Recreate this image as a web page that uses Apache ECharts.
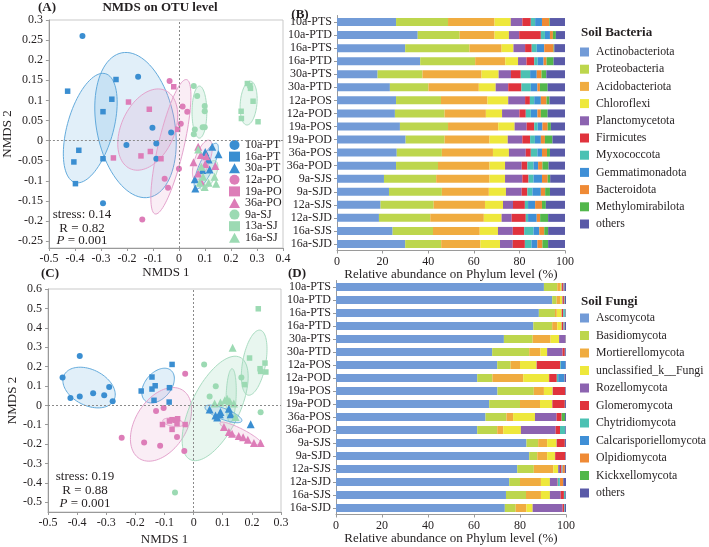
<!DOCTYPE html>
<html><head><meta charset="utf-8">
<script src="https://cdn.jsdelivr.net/npm/echarts@6/dist/echarts.min.js"></script>
<style>html,body{margin:0;padding:0;background:#fff}#c{width:709px;height:547px}</style>
</head><body><div id="c"></div>
<script>
// ---------- NMDS groups ----------
const groupNames = ['10a-PT','16a-PT','30a-PT','12a-PO','19a-PO','36a-PO','9a-SJ','13a-SJ','16a-SJ'];

// Panel A (bacteria NMDS) points [NMDS1, NMDS2]
const A_10aPT = [[-0.371,0.26],[-0.157,0.159],[-0.102,0.032],[-0.03,0.02],[-0.202,-0.011],[-0.087,-0.007],[-0.087,-0.045],[-0.292,-0.156]];
const A_16aPT = [[-0.428,0.123],[-0.242,0.152],[-0.258,0.103],[-0.292,0.072],[-0.385,-0.024],[-0.404,-0.053],[-0.292,-0.045],[-0.398,-0.107]];
const A_30aPT = [[0.128,-0.015],[0.101,-0.028],[0.152,-0.034],[0.114,-0.047],[0.09,-0.073],[0.118,-0.072],[0.061,-0.096],[0.063,-0.119]];
const A_12aPO = [[-0.036,0.148],[0.014,0.085],[0.032,0.072],[0.007,0.042],[0.0,-0.07],[-0.055,-0.095],[-0.042,-0.117],[-0.141,-0.196]];
const A_19aPO = [[-0.02,0.134],[-0.194,0.096],[-0.114,0.078],[-0.005,0.028],[-0.11,-0.027],[-0.146,-0.038],[-0.252,-0.043],[-0.069,-0.045]];
const A_36aPO = [[0.074,-0.015],[0.084,-0.036],[0.105,-0.039],[0.056,-0.054],[0.101,-0.058],[0.14,-0.063],[0.074,-0.082],[0.086,-0.103]];
const A_9aSJ  = [[0.057,0.136],[0.07,0.111],[0.099,0.086],[0.099,0.073],[0.061,0.028],[0.091,0.033],[0.099,0.033],[0.057,0.016]];
const A_13aSJ = [[0.263,0.142],[0.273,0.137],[0.275,0.13],[0.285,0.098],[0.239,0.073],[0.24,0.055],[0.304,0.047]];
const A_16aSJ = [[0.074,-0.022],[0.086,-0.065],[0.137,-0.09],[0.08,-0.105],[0.114,-0.105],[0.099,-0.115],[0.143,-0.107],[0.093,-0.09]];

// Panel C (fungi NMDS) points
const C_10aPT = [[-0.391,0.254],[-0.45,0.143],[-0.423,0.038],[-0.391,0.046],[-0.345,0.063],[-0.307,0.052],[-0.29,0.094],[-0.278,0.021]];
const C_16aPT = [[-0.074,0.211],[-0.143,0.146],[-0.132,0.101],[-0.143,0.084],[-0.18,0.074],[-0.083,0.091],[-0.136,0.026],[-0.084,0.017]];
const C_30aPT = [[0.055,-0.021],[0.075,-0.052],[0.081,-0.063],[0.092,-0.034],[0.09,-0.046],[0.121,-0.017],[0.127,-0.046],[0.196,-0.098]];
const C_12aPO = [[-0.029,0.163],[-0.129,-0.029],[-0.103,-0.014],[-0.247,-0.167],[-0.17,-0.192],[-0.115,-0.208],[-0.032,-0.236],[-0.057,-0.163]];
const C_19aPO = [[-0.083,-0.081],[-0.074,-0.074],[-0.063,-0.077],[-0.055,-0.069],[-0.057,-0.094],[-0.029,-0.099],[-0.107,-0.099],[-0.074,-0.124]];
const C_36aPO = [[0.104,-0.112],[0.121,-0.138],[0.132,-0.146],[0.155,-0.158],[0.17,-0.165],[0.186,-0.177],[0.207,-0.194],[0.23,-0.194]];
const C_9aSJ  = [[0.036,0.211],[0.076,0.098],[0.055,0.046],[0.23,-0.035],[-0.064,-0.45],[0.164,0.143]];
const C_13aSJ = [[0.222,0.498],[0.192,0.244],[0.245,0.218],[0.228,0.189],[0.23,0.175],[0.248,0.172],[0.175,0.107]];
const C_16aSJ = [[0.134,0.297],[0.072,0.009],[0.092,0.015],[0.107,0.026],[0.115,0.034],[0.124,0.021],[0.138,0.009],[0.144,-0.06]];

// Confidence ellipses: [centre1, centre2, axisU1, axisU2, axisV1, axisV2, groupIndex] (data units)
const ellipsesA = [
  [-0.167,0.0387,-0.0530,0.1796,-0.1474,-0.0189,0],
  [-0.341,0.0312,0.0589,0.1352,-0.0851,0.0161,1],
  [-0.120,0.0275,0.0687,0.0970,-0.0925,0.0284,4],
  [-0.031,-0.0153,0.0605,0.1671,-0.0478,0.0075,3],
  [0.0787,0.071,0,0.0647,0.0284,0,6],
  [0.2678,0.0934,0.00725,0.0545,-0.0320,0.0018,7],
  [0.105,-0.0634,0.0400,0.0564,-0.0240,0.00736,2],
  [0.090,-0.0484,0.0272,0.0491,-0.0267,0.0064,5],
  [0.1127,-0.0858,0.0284,0.0352,-0.0234,0.0082,8]
];
const ellipsesC = [
  [-0.359,0.0918,-0.0854,0.0650,-0.0281,-0.0823,0],
  [-0.122,0.102,0.0442,0.0786,-0.0342,0.0429,1],
  [-0.112,-0.098,0.0739,0.1767,-0.0746,0.0696,3],
  [-0.0704,-0.0879,0.0355,-0.0094,0.0024,0.0202,4],
  [0.0739,-0.016,0.0854,0.2639,-0.0746,0.0538,6],
  [0.1289,0.0507,0.0032,0.1385,-0.0172,0.0009,8],
  [0.2079,0.2201,0.0208,0.1676,-0.0389,0.0108,7],
  [0.1024,-0.0443,0.063,-0.0369,0.0069,0.0263,2],
  [0.1625,-0.1454,0.0716,-0.0557,0.0071,0.0205,5]
];

const A_Y_TICKS = [-0.25,-0.2,-0.15,-0.1,-0.05,0,0.05,0.1,0.15,0.2,0.25,0.3];
const C_Y_TICKS = [-0.5,-0.4,-0.3,-0.2,-0.1,0,0.1,0.2,0.3,0.4,0.5,0.6];

// ---------- Relative abundance ----------
const samples = ['10a-PTS','10a-PTD','16a-PTS','16a-PTD','30a-PTS','30a-PTD','12a-POS','12a-POD','19a-POS','19a-POD','36a-POS','36a-POD','9a-SJS','9a-SJD','12a-SJS','12a-SJD','16a-SJS','16a-SJD'];
const bacPhyla = ['Actinobacteriota','Proteobacteria','Acidobacteriota','Chloroflexi','Planctomycetota','Firmicutes','Myxococcota','Gemmatimonadota','Bacteroidota','Methylomirabilota','others'];
const bacteriaRows = [
  [25.9,22.8,20.4,7.1,5.1,3.7,1.9,3.0,3.2,0.3,6.6],
  [35.4,18.4,15.3,6.3,4.5,9.5,1.8,2.2,1.3,1.3,4.0],
  [29.9,28.2,14.1,5.2,5.1,2.9,2.2,3.3,4.1,0.3,4.7],
  [36.5,24.1,13.2,5.6,3.7,3.4,1.5,2.6,1.3,3.1,5.0],
  [17.8,19.7,25.9,7.5,5.4,4.3,4.1,2.9,2.1,2.1,8.2],
  [23.2,16.9,22.1,7.4,5.5,5.8,4.1,2.9,1.1,3.4,7.6],
  [25.9,19.7,20.4,9.1,7.4,2.1,1.9,2.9,2.5,1.3,6.8],
  [25.4,21.8,18.1,7.1,7.6,2.8,2.2,2.9,1.5,3.0,7.6],
  [27.6,21.1,22.0,7.2,5.3,3.3,1.5,2.1,2.3,1.4,6.2],
  [30.1,17.1,19.7,8.0,6.4,3.4,2.1,2.6,1.8,3.3,5.5],
  [26.2,19.8,22.4,7.0,7.4,2.2,2.9,2.0,2.2,1.3,6.6],
  [25.9,18.4,22.6,6.8,7.3,2.5,2.7,2.0,1.9,2.7,7.2],
  [20.6,22.9,23.4,6.8,7.6,2.7,2.2,3.7,2.5,1.1,6.5],
  [22.8,23.2,20.6,7.5,6.9,2.5,2.2,3.7,1.9,2.1,6.6],
  [19.1,23.3,22.5,7.9,4.4,5.2,1.4,3.1,3.0,1.7,8.4],
  [18.4,22.5,23.5,7.8,4.4,6.2,1.0,3.8,1.5,3.5,7.4],
  [24.4,17.7,20.5,8.0,6.5,5.0,4.1,2.5,2.2,1.7,7.4],
  [29.9,15.8,17.2,8.6,5.6,5.3,2.9,2.6,2.2,2.5,7.4]
];
const fungiPhyla = ['Ascomycota','Basidiomycota','Mortierellomycota','unclassified_k__Fungi','Rozellomycota','Glomeromycota','Chytridiomycota','Calcarisporiellomycota','Olpidiomycota','Kickxellomycota','others'];
const fungiRows = [
  [90.4,5.8,1.2,0.7,0.2,0.6,0.1,0.1,0.1,0.1,0.7],
  [94.0,1.9,1.5,1.0,0.2,0.5,0.1,0.1,0.1,0.1,0.5],
  [88.2,7.0,0.8,2.1,0.1,0.6,0.7,0.1,0.1,0.1,0.2],
  [85.8,8.2,2.2,1.9,0.1,0.7,0.2,0.1,0.1,0.1,0.6],
  [73.0,12.5,7.8,3.7,2.8,0.1,0.1,0,0,0,0.1],
  [67.9,16.1,4.9,2.9,6.7,1.0,0.1,0.1,0,0,0.3],
  [70.1,5.8,4.1,7.2,0.1,10.2,0.3,2.0,0,0,0.2],
  [61.4,6.6,13.4,11.2,0.1,3.3,0.6,2.7,0.1,0,0.6],
  [70.2,15.8,4.4,3.8,0.1,5.4,0.1,0,0,0,0.2],
  [66.6,13.4,8.7,5.3,0.1,5.4,0.1,0,0,0,0.4],
  [65.0,9.1,2.9,9.5,9.4,2.2,0.1,0,0,1.4,0.4],
  [61.4,8.7,2.6,7.7,15.1,1.9,2.3,0,0,0,0.3],
  [82.8,5.1,3.9,4.1,0.1,3.5,0.1,0,0,0,0.4],
  [84.0,3.5,4.3,3.4,0.1,4.4,0.1,0,0,0,0.2],
  [78.8,7.2,8.5,2.1,0.8,0.6,0.1,0.4,1.0,0,0.5],
  [75.3,4.7,9.1,3.9,3.2,0.2,0.9,0.1,1.4,0,1.2],
  [73.9,8.7,6.5,3.9,4.7,1.4,0.6,0,0,0,0.3],
  [73.4,4.7,4.7,2.7,13.0,0.7,0.3,0,0,0,0.5]
];

// ---------- styles ----------
const FONT = '"Liberation Serif","Times New Roman",serif';
const TXT = '#231f20';
const AX = '#9a9a9a';
const famColor = ['#3a8ed1','#dd7db8','#9cdab3'];
const ellFill = ['rgba(90,165,220,0.18)','rgba(225,140,195,0.16)','rgba(150,215,180,0.22)'];
const ellStroke = ['#64abdc','#e4a3cd','#a9dcc1'];
const symbolsByIdx = ['circle','rect','triangle'];
const phylumColors = ['#729bd7','#bdd64d','#f0ac40','#eee83c','#8c63b0','#e0333d','#4cc1b3','#3f8fd6','#ef8a35','#52b74b','#5a5aa8'];

const A_sets = [A_10aPT,A_16aPT,A_30aPT,A_12aPO,A_19aPO,A_36aPO,A_9aSJ,A_13aSJ,A_16aSJ];
const C_sets = [C_10aPT,C_16aPT,C_30aPT,C_12aPO,C_19aPO,C_36aPO,C_9aSJ,C_13aSJ,C_16aSJ];

function ellipseRender(params, api) {
  const cx = api.value(0), cy = api.value(1), ux = api.value(2), uy = api.value(3), vx = api.value(4), vy = api.value(5);
  const fam = Math.floor(api.value(6) / 3);
  const pts = [];
  for (let k = 0; k < 90; k++) {
    const t = k / 90 * Math.PI * 2, c = Math.cos(t), s = Math.sin(t);
    pts.push(api.coord([cx + c * ux + s * vx, cy + c * uy + s * vy]));
  }
  return { type: 'polygon', shape: { points: pts }, style: { fill: ellFill[fam], stroke: ellStroke[fam], lineWidth: 1 } };
}

const zeroLines = {
  silent: true, symbol: 'none', label: { show: false },
  lineStyle: { type: [2, 2], color: '#8a8a8a', width: 1 },
  data: [{ xAxis: 0 }, { yAxis: 0 }]
};

const series = [];
series.push({ type: 'custom', name: 'ellA', xAxisIndex: 0, yAxisIndex: 0, renderItem: ellipseRender, data: ellipsesA, encode: { x: 0, y: 1 }, z: 1, silent: true });
series.push({ type: 'custom', name: 'ellC', xAxisIndex: 2, yAxisIndex: 2, renderItem: ellipseRender, data: ellipsesC, encode: { x: 0, y: 1 }, z: 1, silent: true });
groupNames.forEach((g, i) => {
  const fam = Math.floor(i / 3), sym = symbolsByIdx[i % 3];
  const size = sym === 'triangle' ? 8 : (sym === 'rect' ? 5.5 : 6);
  series.push({ type: 'scatter', name: g, xAxisIndex: 0, yAxisIndex: 0, data: A_sets[i], symbol: sym, symbolSize: size,
    itemStyle: { color: famColor[fam], opacity: 1 }, z: 3, markLine: i === 0 ? zeroLines : undefined });
  series.push({ type: 'scatter', name: g, xAxisIndex: 2, yAxisIndex: 2, data: C_sets[i], symbol: sym, symbolSize: size,
    itemStyle: { color: famColor[fam], opacity: 1 }, z: 3, markLine: i === 0 ? zeroLines : undefined });
});
bacPhyla.forEach((p, j) => {
  series.push({ type: 'bar', name: p, xAxisIndex: 1, yAxisIndex: 1, stack: 'bac', barWidth: 8,
    itemStyle: { color: phylumColors[j] }, data: bacteriaRows.map(r => r[j]) });
});
fungiPhyla.forEach((p, j) => {
  series.push({ type: 'bar', name: p, xAxisIndex: 3, yAxisIndex: 3, stack: 'fun', barWidth: 8,
    itemStyle: { color: phylumColors[j] }, data: fungiRows.map(r => r[j]) });
});

function valueAxis(grid, min, max, interval, name, gap) {
  return {
    gridIndex: grid, type: 'value', min: min, max: max, interval: interval,
    splitLine: { show: false },
    axisLine: { show: true, onZero: false, lineStyle: { color: AX } },
    axisTick: { show: true, length: 3, lineStyle: { color: AX } },
    axisLabel: { fontSize: 12, color: TXT, fontFamily: FONT, margin: 5 },
    name: name, nameLocation: 'middle', nameGap: gap,
    nameTextStyle: { fontSize: 13, color: TXT, fontFamily: FONT }
  };
}
function catAxis(grid) {
  return {
    gridIndex: grid, type: 'category', data: samples, inverse: true,
    axisLine: { show: true, onZero: false, lineStyle: { color: AX } },
    axisTick: { show: true, alignWithLabel: true, length: 3, lineStyle: { color: AX } },
    axisLabel: { fontSize: 12, color: TXT, fontFamily: FONT, margin: 5, interval: 0 }
  };
}
function customY(grid, min, max, ticks, gap) {
  return {
    gridIndex: grid, type: 'value', min: min, max: max,
    splitLine: { show: false },
    axisLine: { show: true, onZero: false, lineStyle: { color: AX } },
    axisTick: { show: true, length: 3, customValues: ticks, lineStyle: { color: AX } },
    axisLabel: { customValues: ticks, fontSize: 12, color: TXT, fontFamily: FONT, margin: 6 },
    name: 'NMDS 2', nameLocation: 'middle', nameGap: gap, nameRotate: 90,
    nameTextStyle: { fontSize: 13, color: TXT, fontFamily: FONT }
  };
}

const option = {
  animation: false,
  backgroundColor: '#fff',
  textStyle: { fontFamily: FONT },
  grid: [
    { left: 45, top: 20, width: 238, height: 228, show: true, borderColor: '#c9c9c9', borderWidth: 1 },
    { left: 337, top: 15.5, width: 228, height: 235 },
    { left: 48, top: 289, width: 233, height: 224, show: true, borderColor: '#c9c9c9', borderWidth: 1 },
    { left: 336, top: 280.5, width: 230, height: 234 }
  ],
  xAxis: [
    valueAxis(0, -0.5, 0.4, 0.1, 'NMDS 1', 15),
    valueAxis(1, 0, 100, 20, 'Relative abundance on Phylum level (%)', 14),
    valueAxis(2, -0.5, 0.3, 0.1, 'NMDS 1', 21),
    valueAxis(3, 0, 100, 20, 'Relative abundance on Phylum level (%)', 16)
  ],
  yAxis: [
    customY(0, -0.267, 0.3, A_Y_TICKS, 27),
    catAxis(1),
    customY(2, -0.55, 0.6, C_Y_TICKS, 27),
    catAxis(3)
  ],
  legend: [
    { data: groupNames, orient: 'vertical', selectedMode: false, padding: 0, left: 229, top: 139,
      itemWidth: 11, itemHeight: 10, itemGap: -0.4,
      textStyle: { fontFamily: FONT, fontSize: 12, color: TXT } },
    { data: bacPhyla, orient: 'vertical', selectedMode: false, padding: 0, left: 580, top: 46, icon: 'rect',
      itemWidth: 9, itemHeight: 9, itemGap: 5.2,
      textStyle: { fontFamily: FONT, fontSize: 11.8, color: TXT, padding: [0, 0, 0, 2] } },
    { data: fungiPhyla, orient: 'vertical', selectedMode: false, padding: 0, left: 580, top: 312, icon: 'rect',
      itemWidth: 9, itemHeight: 9, itemGap: 5.5,
      textStyle: { fontFamily: FONT, fontSize: 11.8, color: TXT, padding: [0, 0, 0, 2] } }
  ],
  graphic: [
    { type: 'text', x: 47, y: 8, style: { text: '(A)', font: 'bold 13px ' + FONT, fill: TXT, textAlign: 'center', textVerticalAlign: 'middle' } },
    { type: 'text', x: 160, y: 8, style: { text: 'NMDS on OTU level', font: 'bold 13px ' + FONT, fill: TXT, textAlign: 'center', textVerticalAlign: 'middle' } },
    { type: 'text', x: 300, y: 15, style: { text: '(B)', font: 'bold 13px ' + FONT, fill: TXT, textAlign: 'center', textVerticalAlign: 'middle' } },
    { type: 'text', x: 50, y: 274, style: { text: '(C)', font: 'bold 13px ' + FONT, fill: TXT, textAlign: 'center', textVerticalAlign: 'middle' } },
    { type: 'text', x: 297, y: 274, style: { text: '(D)', font: 'bold 13px ' + FONT, fill: TXT, textAlign: 'center', textVerticalAlign: 'middle' } },
    { type: 'text', x: 581, y: 33, style: { text: 'Soil Bacteria', font: 'bold 13px ' + FONT, fill: TXT, textAlign: 'left', textVerticalAlign: 'middle' } },
    { type: 'text', x: 581, y: 302, style: { text: 'Soil Fungi', font: 'bold 13px ' + FONT, fill: TXT, textAlign: 'left', textVerticalAlign: 'middle' } },
    { type: 'text', x: 82, y: 215, style: { text: 'stress: 0.14', font: '13px ' + FONT, fill: TXT, textAlign: 'center', textVerticalAlign: 'middle' } },
    { type: 'text', x: 82, y: 229, style: { text: 'R = 0.82', font: '13px ' + FONT, fill: TXT, textAlign: 'center', textVerticalAlign: 'middle' } },
    { type: 'text', x: 82, y: 241, style: { text: '{i|P} = 0.001', font: '13px ' + FONT, fill: TXT, textAlign: 'center', textVerticalAlign: 'middle',
      rich: { i: { fontStyle: 'italic', fontFamily: FONT, fontSize: 13 } } } },
    { type: 'text', x: 85, y: 477, style: { text: 'stress: 0.19', font: '13px ' + FONT, fill: TXT, textAlign: 'center', textVerticalAlign: 'middle' } },
    { type: 'text', x: 85, y: 491, style: { text: 'R = 0.88', font: '13px ' + FONT, fill: TXT, textAlign: 'center', textVerticalAlign: 'middle' } },
    { type: 'text', x: 85, y: 504, style: { text: '{i|P} = 0.001', font: '13px ' + FONT, fill: TXT, textAlign: 'center', textVerticalAlign: 'middle',
      rich: { i: { fontStyle: 'italic', fontFamily: FONT, fontSize: 13 } } } }
  ],
  series: series
};

const chart = echarts.init(document.getElementById('c'), null, { renderer: 'canvas' });
chart.setOption(option);
</script>
</body></html>
